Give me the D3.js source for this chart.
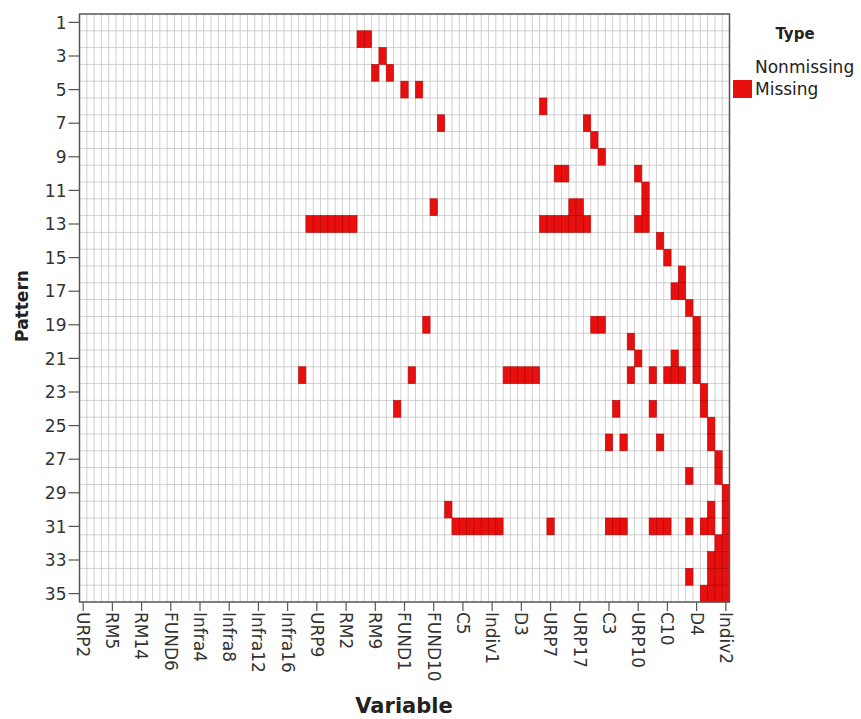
<!DOCTYPE html>
<html>
<head>
<meta charset="utf-8">
<script src="https://cdn.jsdelivr.net/npm/d3@7"></script>
<style>
  body { margin: 0; background: #fff; }
  text { font-family: "DejaVu Sans", Verdana, sans-serif; }
</style>
</head>
<body>
<div class="chart-container"></div>
<script>
// variable names shown on the x axis (every 4th column is labelled)
const tickLabels = ["URP2", "RM5", "RM14", "FUND6", "Infra4", "Infra8", "Infra12", "Infra16",
  "URP9", "RM2", "RM9", "FUND1", "FUND10", "C5", "Indiv1", "D3", "URP7", "URP17", "C3",
  "URP10", "C10", "D4", "Indiv2"];
const variableCount = 89;
const tickEvery = 4;

const patterns = [1, 2, 3, 4, 5, 6, 7, 8, 9, 10, 11, 12, 13, 14, 15, 16, 17, 18, 19, 20,
  21, 22, 23, 24, 25, 26, 27, 28, 29, 30, 31, 32, 33, 34, 35];
const patternTicks = [1, 3, 5, 7, 9, 11, 13, 15, 17, 19, 21, 23, 25, 27, 29, 31, 33, 35];

// column indices that are missing in each pattern (pattern 1 = complete cases)
const missing = [
  [],
  [38, 39],
  [41],
  [40, 42],
  [44, 46],
  [63],
  [49, 69],
  [70],
  [71],
  [65, 66, 76],
  [77],
  [48, 67, 68, 77],
  [31, 32, 33, 34, 35, 36, 37, 63, 64, 65, 66, 67, 68, 69, 76, 77],
  [79],
  [80],
  [82],
  [81, 82],
  [83],
  [47, 70, 71, 84],
  [75, 84],
  [76, 81, 84],
  [30, 45, 58, 59, 60, 61, 62, 75, 78, 80, 81, 82, 84],
  [85],
  [43, 73, 78, 85],
  [86],
  [72, 74, 79, 86],
  [87],
  [83, 87],
  [88],
  [50, 86, 88],
  [51, 52, 53, 54, 55, 56, 57, 64, 72, 73, 74, 78, 79, 80, 83, 85, 86, 88],
  [87, 88],
  [86, 87, 88],
  [83, 86, 87, 88],
  [85, 86, 87, 88]
];

const width = 861, height = 719;
const plotLeft = 79.5, plotRight = 729.5, plotTop = 14, plotBottom = 602;
const red = "#e8100f";

const svg = d3.select(".chart-container")
  .append("svg")
  .attr("width", width)
  .attr("height", height);

const columns = d3.range(variableCount);
const x = d3.scaleBand().domain(columns).range([plotLeft, plotRight]);
const y = d3.scaleBand().domain(patterns).range([plotTop, plotBottom]);

const cells = [];
patterns.forEach((p, i) => missing[i].forEach(c => cells.push({ p, c })));

// grid
const grid = svg.append("g").attr("stroke", "#c4c4c4").attr("stroke-width", 0.8);
grid.selectAll("line.v")
  .data(columns.slice(1))
  .enter().append("line")
  .attr("x1", d => x(d)).attr("x2", d => x(d))
  .attr("y1", plotTop).attr("y2", plotBottom);
grid.selectAll("line.h")
  .data(patterns.slice(1))
  .enter().append("line")
  .attr("y1", d => y(d)).attr("y2", d => y(d))
  .attr("x1", plotLeft).attr("x2", plotRight);

// missing cells
svg.append("g")
  .selectAll("rect")
  .data(cells)
  .enter().append("rect")
  .attr("x", d => x(d.c))
  .attr("y", d => y(d.p))
  .attr("width", x.bandwidth())
  .attr("height", y.bandwidth())
  .attr("fill", red)
  .attr("stroke", "#b30000")
  .attr("stroke-width", 0.6);

// frame
svg.append("rect")
  .attr("x", plotLeft).attr("y", plotTop)
  .attr("width", plotRight - plotLeft).attr("height", plotBottom - plotTop)
  .attr("fill", "none")
  .attr("stroke", "#555")
  .attr("stroke-width", 1.5);

// y axis
const yAxis = svg.append("g")
  .selectAll("g")
  .data(patternTicks)
  .enter().append("g")
  .attr("transform", d => `translate(${plotLeft},${y(d) + y.bandwidth() / 2})`);
yAxis.append("line").attr("x1", -11).attr("x2", 0).attr("stroke", "#555").attr("stroke-width", 1.2);
yAxis.append("text")
  .attr("x", -13)
  .attr("dy", "0.36em")
  .attr("text-anchor", "end")
  .attr("fill", "#333")
  .style("font-size", "17px")
  .text(d => d);

// x axis
const xAxis = svg.append("g")
  .selectAll("g")
  .data(tickLabels)
  .enter().append("g")
  .attr("transform", (d, i) => `translate(${x(i * tickEvery) + x.bandwidth() / 2},${plotBottom})`);
xAxis.append("line").attr("y1", 0).attr("y2", 9).attr("stroke", "#555").attr("stroke-width", 1.2);
xAxis.append("text")
  .attr("transform", "translate(0,10) rotate(90)")
  .attr("dy", "0.36em")
  .attr("text-anchor", "start")
  .attr("fill", "#333")
  .style("font-size", "17px")
  .text(d => d);

// axis titles
svg.append("text")
  .attr("x", 404)
  .attr("y", 713)
  .attr("text-anchor", "middle")
  .attr("fill", "#222")
  .style("font-size", "21px")
  .style("font-weight", "bold")
  .text("Variable");

svg.append("text")
  .attr("transform", "translate(28,306) rotate(-90)")
  .attr("text-anchor", "middle")
  .attr("fill", "#222")
  .style("font-size", "17px")
  .style("font-weight", "bold")
  .text("Pattern");

// legend
const legend = svg.append("g");
legend.append("text")
  .attr("x", 795).attr("y", 39)
  .attr("text-anchor", "middle")
  .attr("fill", "#222")
  .style("font-size", "15px")
  .style("font-weight", "bold")
  .text("Type");
const legendItems = [{ name: "Nonmissing", color: "#fff" }, { name: "Missing", color: red }];
const item = legend.selectAll("g")
  .data(legendItems)
  .enter().append("g")
  .attr("transform", (d, i) => `translate(733,${58 + i * 22})`);
item.append("rect")
  .attr("width", 19).attr("height", 18)
  .attr("fill", d => d.color);
item.append("text")
  .attr("x", 22).attr("y", 9)
  .attr("dy", "0.36em")
  .attr("fill", "#222")
  .style("font-size", "17px")
  .text(d => d.name);
</script>
</body>
</html>
